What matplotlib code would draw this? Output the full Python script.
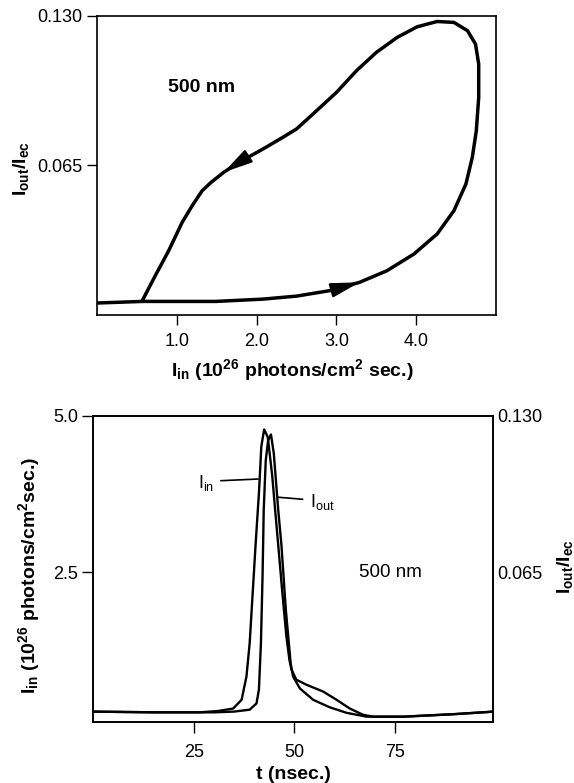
import matplotlib
matplotlib.use("Agg")
import matplotlib.pyplot as plt

plt.rcParams['font.family'] = ['Liberation Sans', 'DejaVu Sans']
plt.rcParams['mathtext.default'] = 'regular'

# ---- Top panel: hysteresis loop I_out/I_ec vs I_in (time ordered) ----
loop_iin = [0.00, 0.57, 1.49, 2.08, 2.50, 2.92, 3.29, 3.63, 3.97, 4.26, 4.47,
            4.62, 4.70, 4.75, 4.78, 4.78, 4.74, 4.64, 4.47, 4.26, 4.01, 3.76,
            3.50, 3.25, 3.00, 2.75, 2.50, 2.33, 2.08, 1.78, 1.59, 1.43, 1.32,
            1.195, 1.07, 0.90, 0.733, 0.565]
loop_iout = [0.0052, 0.0059, 0.0059, 0.0069, 0.0082, 0.0106, 0.0142, 0.0192,
             0.0265, 0.0352, 0.0453, 0.0569, 0.0685, 0.0800, 0.0945, 0.1090,
             0.1177, 0.1235, 0.1271, 0.1275, 0.1252, 0.1206, 0.1141, 0.1061,
             0.0967, 0.0887, 0.0808, 0.0772, 0.0721, 0.0663, 0.0620, 0.0576,
             0.0540, 0.0475, 0.0403, 0.0279, 0.0171, 0.0059]
arrow_idx = [6, 30]   # points on the loop where direction arrows sit
top_xticks = [1.0, 2.0, 3.0, 4.0]
top_yticks = [0.065, 0.130]

# ---- Bottom panel: time traces ----
t_in = [0, 15, 26.5, 31, 34.8, 36.9, 38.1, 38.9, 39.8, 40.4, 41.2, 41.8, 42.5,
        43.4, 44.5, 45.3, 46.0, 47.0, 48.0, 48.8, 49.3, 50.5, 53.0, 57.2,
        60.5, 63.8, 67.1, 69.6, 77.1, 89.5, 99.5]
i_in = [0.28, 0.27, 0.27, 0.29, 0.33, 0.47, 0.84, 1.37, 2.33, 2.97, 3.76, 4.51,
        4.78, 4.66, 4.05, 3.45, 2.94, 2.20, 1.50, 1.10, 0.95, 0.79, 0.71, 0.60,
        0.47, 0.33, 0.23, 0.20, 0.20, 0.24, 0.28]
t_out = [0, 15, 30, 35, 38.9, 40.6, 41.2, 41.7, 42.1, 42.4, 42.9, 43.5, 44.2,
         44.9, 46.0, 46.8, 47.9, 49.1, 49.7, 51.4, 54.7, 58.8, 63.0, 68.0,
         77.1, 89.5, 99.5]
i_out = [0.0073, 0.0070, 0.0070, 0.0073, 0.0081, 0.0107, 0.0164, 0.0356,
         0.0632, 0.0910, 0.1115, 0.1199, 0.1222, 0.1144, 0.0910, 0.0764,
         0.0494, 0.0273, 0.0218, 0.0169, 0.0122, 0.0091, 0.0068, 0.0052,
         0.0052, 0.0062, 0.0073]
bot_xticks = [25, 50, 75]
bot_yticks = [2.5, 5.0]
bot_y2ticks = [0.065, 0.130]

fig = plt.figure(figsize=(5.74, 7.83), dpi=100)

FS = 13
lab = dict(fontsize=14, fontweight='bold')

# ================= Top =================
ax = fig.add_axes([0.1685, 0.5977, 0.6961, 0.3822])
ax.plot(loop_iin, loop_iout, color='black', lw=2.5, solid_joinstyle='round',
        solid_capstyle='round')
for i in arrow_idx:
    ax.annotate('', xy=(loop_iin[i], loop_iout[i]),
                xytext=(loop_iin[i - 1], loop_iout[i - 1]),
                arrowprops=dict(arrowstyle='-|>,head_length=1.0,head_width=0.25',
                                mutation_scale=18, color='black', lw=1.5,
                                shrinkA=0, shrinkB=0))
ax.set_xlim(0, 5.0)
ax.set_ylim(0, 0.130)
ax.set_xticks(top_xticks)
ax.set_xticklabels([f"{v:.1f}" for v in top_xticks])
ax.set_yticks(top_yticks)
ax.set_yticklabels([f"{v:.3f}" for v in top_yticks])
ax.tick_params(axis='both', direction='out', length=7, width=1, labelsize=FS)
ax.tick_params(axis='x', pad=6)
ax.tick_params(axis='y', pad=3)
for s in ax.spines.values():
    s.set_linewidth(1.2)
ax.set_xlabel('I$_{in}$ (10$^{26}$ photons/cm$^{2}$ sec.)', **lab)
ax.xaxis.set_label_coords(0.49, -0.14)
ax.set_ylabel('I$_{out}$/I$_{ec}$', **lab)
ax.yaxis.set_label_coords(-0.165, 0.49)
ax.text(1.31, 0.0989, '500 nm', ha='center', va='center', **lab)

# ================= Bottom =================
axb = fig.add_axes([0.1625, 0.0783, 0.6969, 0.3908])
axb.plot(t_in, i_in, color='black', lw=1.7, solid_joinstyle='round')
ax2 = axb.twinx()
ax2.plot(t_out, i_out, color='black', lw=1.7, solid_joinstyle='round')
axb.set_xlim(0, 99.5)
axb.set_ylim(0.12, 5.0)
ax2.set_ylim(0.12 * 0.026, 0.130)
axb.set_xticks(bot_xticks)
axb.set_yticks(bot_yticks)
axb.set_yticklabels([f"{v:.1f}" for v in bot_yticks])
ax2.set_yticks(bot_y2ticks)
ax2.set_yticklabels([f"{v:.3f}" for v in bot_y2ticks])
axb.tick_params(axis='both', direction='out', length=8, width=1, labelsize=FS)
axb.tick_params(axis='x', pad=8)
axb.tick_params(axis='y', pad=3)
ax2.tick_params(axis='y', direction='out', length=0, width=1, labelsize=FS, pad=3)
for a in (axb, ax2):
    for s in a.spines.values():
        s.set_linewidth(1.2)
axb.set_xlabel('t (nsec.)', **lab)
axb.xaxis.set_label_coords(0.5, -0.145)
axb.set_ylabel('I$_{in}$ (10$^{26}$ photons/cm$^{2}$sec.)', **lab)
axb.yaxis.set_label_coords(-0.128, 0.479)
ax2.set_ylabel('I$_{out}$/I$_{ec}$', rotation=90, **lab)
ax2.yaxis.set_label_coords(1.155, 0.506)

axb.text(73.8, 2.5, '500 nm', ha='center', va='center', fontsize=13.5)
axb.annotate('I$_{in}$', xy=(41.0, 3.99), xytext=(30.0, 3.92),
             ha='right', va='center', fontsize=FS,
             arrowprops=dict(arrowstyle='-', color='black', lw=1.2,
                             shrinkA=3, shrinkB=0, relpos=(1.0, 0.62)))
axb.annotate('I$_{out}$', xy=(45.9, 3.70), xytext=(53.8, 3.62),
             ha='left', va='center', fontsize=FS,
             arrowprops=dict(arrowstyle='-', color='black', lw=1.2,
                             shrinkA=3, shrinkB=0, relpos=(0.0, 0.62)))

fig.savefig('out.png', dpi=100)
